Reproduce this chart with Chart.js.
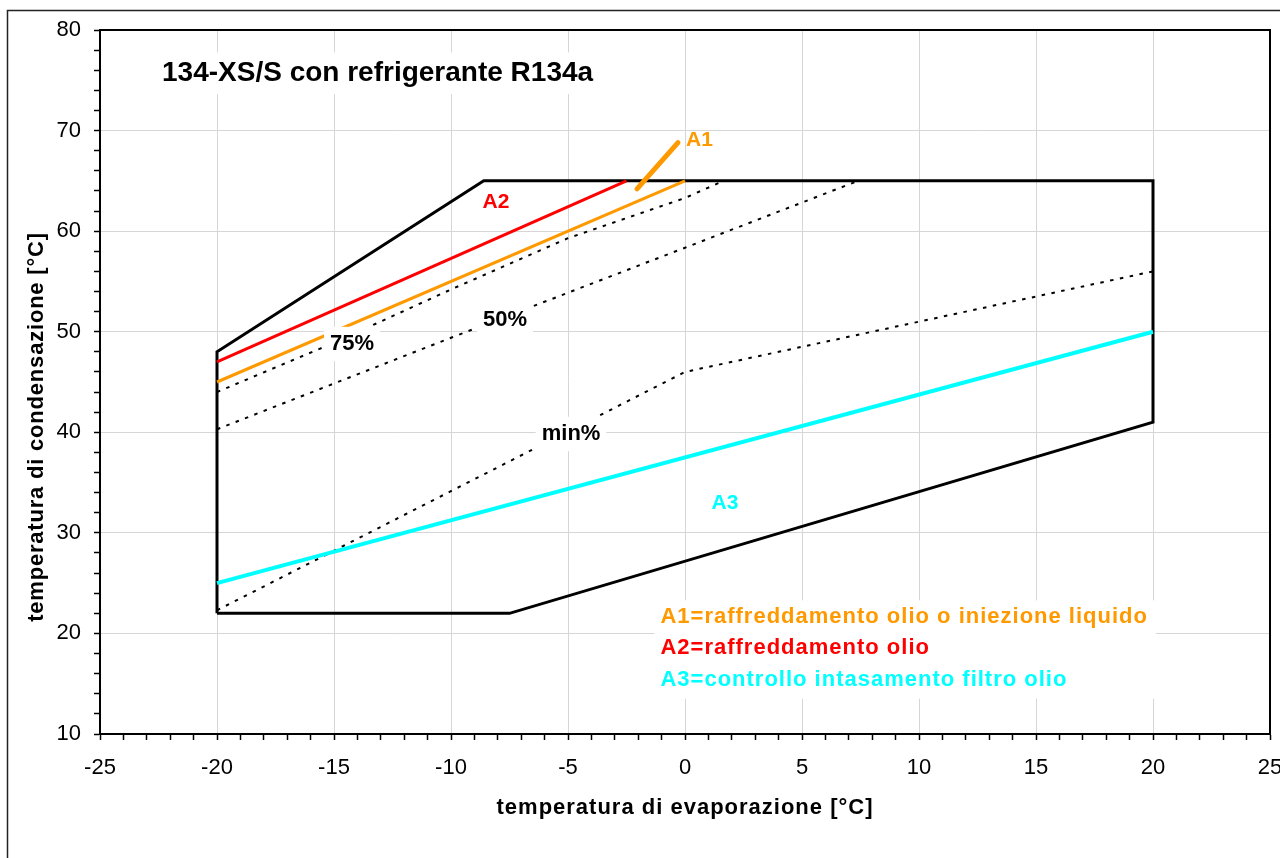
<!DOCTYPE html>
<html><head><meta charset="utf-8">
<script src="https://cdn.jsdelivr.net/npm/chart.js@4.4.1/dist/chart.umd.min.js"></script>
<style>html,body{margin:0;padding:0;background:#fff;overflow:hidden}canvas{display:block}</style>
</head><body><canvas id="c" width="1280" height="858"></canvas>
<script>
// ---- data ----
const envelopeX = [-20, -20, -8.6, 20, 20, -7.5, -20];
const envelopeY = [22, 48, 65, 65, 41, 22, 22];
const a1X = [-20, 0];
const a1Y = [45, 65];
const a2X = [-20, -2.5];
const a2Y = [47, 65];
const a3X = [-20, 20];
const a3Y = [25, 50];
const a1PointerX = [-2.05, -0.3];
const a1PointerY = [64.2, 68.8];
const p75X = [-20, -15, -10, -5, 0, 1.65];
const p75Y = [44, 48.9, 54.2, 59.3, 63.3, 65];
const p50X = [-20, -10, 0, 7.4];
const p50Y = [40.3, 49.4, 58.35, 65];
const pMinX = [-20, 0, 20];
const pMinY = [22.3, 46, 56];
const xTickLabels = [-25, -20, -15, -10, -5, 0, 5, 10, 15, 20, 25];
const yTickLabels = [10, 20, 30, 40, 50, 60, 70, 80];

const chartTitle = '134-XS/S con refrigerante R134a';
const xTitle = 'temperatura di evaporazione [°C]';
const yTitle = 'temperatura di condensazione [°C]';
const curveLabels = ['A1', 'A2', 'A3', '75%', '50%', 'min%'];
const legendLines = ['A1=raffreddamento olio o iniezione liquido', 'A2=raffreddamento olio', 'A3=controllo intasamento filtro olio'];

// ---- styles / placement ----
const ORANGE = '#FF9900', RED = '#FF0000', CYAN = '#00FFFF';
const FONT = '"Liberation Sans", Arial, Helvetica, sans-serif';
const curveLabelStyle = [
  {x: 0.62, y: 69.06, color: ORANGE, size: 21, box: false},
  {x: -8.08, y: 62.9, color: RED, size: 21, box: false},
  {x: 1.71, y: 32.97, color: CYAN, size: 21, box: false},
  {x: -14.23, y: 48.78, color: '#000', size: 22, box: true},
  {x: -7.69, y: 51.16, color: '#000', size: 22, box: true},
  {x: -4.87, y: 39.83, color: '#000', size: 22, box: true}
];
const legendColors = [ORANGE, RED, CYAN];
const legendPos = {x: -1.05, y: [21.6, 18.6, 15.4]};
const titlePos = {x: -22.35, y: 75.7};

const zip = (xs, ys) => xs.map((x, i) => ({x, y: ys[i]}));
const line = (label, xs, ys, color, width, dash) => ({
  label, data: zip(xs, ys), showLine: true, borderColor: color, backgroundColor: color,
  borderWidth: width, pointRadius: 0, borderDash: dash || [], tension: 0,
  borderCapStyle: 'butt', borderJoinStyle: 'miter', fill: false
});

const datasets = [
  Object.assign(line('A1 pointer', a1PointerX, a1PointerY, ORANGE, 5), {borderCapStyle: 'round'}),
  line('A3', a3X, a3Y, CYAN, 4),
  line('A1', a1X, a1Y, ORANGE, 3),
  line('A2', a2X, a2Y, RED, 3),
  line('envelope', envelopeX, envelopeY, '#000', 3),
  line('75%', p75X, p75Y, '#000', 2, [3.5, 6.5]),
  line('50%', p50X, p50Y, '#000', 2, [3.5, 6.5]),
  line('min%', pMinX, pMinY, '#000', 2, [3.5, 6.5])
];

function setSpacing(ctx, v) { try { ctx.letterSpacing = v; } catch (e) {} }

function textBox(ctx, text, x, y, font, color, align, box) {
  ctx.font = font;
  const w = ctx.measureText(text).width;
  const m = parseFloat(font.match(/(\d+)px/)[1]);
  const left = align === 'left' ? x : x - w / 2;
  if (box) {
    ctx.fillStyle = '#fff';
    ctx.fillRect(left - 6, y - m * 0.6 - 4, w + 12, m * 1.2 + 8);
  }
  ctx.fillStyle = color;
  ctx.textAlign = align;
  ctx.textBaseline = 'middle';
  ctx.fillText(text, x, y);
}

const overlay = {
  id: 'overlay',
  beforeDraw(chart) {
    const ctx = chart.ctx;
    ctx.save(); ctx.fillStyle = '#fff'; ctx.fillRect(0, 0, chart.width, chart.height); ctx.restore();
  },
  beforeDatasetsDraw(chart) {
    const {ctx, chartArea: a} = chart;
    ctx.save();
    ctx.strokeStyle = '#000'; ctx.lineWidth = 2;
    ctx.strokeRect(a.left, a.top, a.right - a.left, a.bottom - a.top);
    ctx.restore();
  },
  afterDatasetsDraw(chart) {
    const {ctx, scales: {x, y}} = chart;
    ctx.save();
    setSpacing(ctx, '0px');
    textBox(ctx, chartTitle, x.getPixelForValue(titlePos.x), y.getPixelForValue(titlePos.y),
      'bold 28px ' + FONT, '#000', 'left', true);
    curveLabels.forEach((t, i) => {
      const s = curveLabelStyle[i];
      textBox(ctx, t, x.getPixelForValue(s.x), y.getPixelForValue(s.y), 'bold ' + s.size + 'px ' + FONT, s.color, 'center', s.box);
    });
    // legend block
    setSpacing(ctx, '1px');
    ctx.font = 'bold 22px ' + FONT;
    const lx = x.getPixelForValue(legendPos.x);
    const ys = legendPos.y.map(v => y.getPixelForValue(v));
    const maxW = Math.max(...legendLines.map(t => ctx.measureText(t).width));
    ctx.fillStyle = '#fff';
    ctx.fillRect(lx - 6, ys[0] - 17, maxW + 14, ys[2] - ys[0] + 36);
    legendLines.forEach((t, i) => textBox(ctx, t, lx, ys[i], 'bold 22px ' + FONT, legendColors[i], 'left', false));
    ctx.restore();
  },
  afterDraw(chart) {
    const {ctx, chartArea: a} = chart;
    ctx.save();
    ctx.strokeStyle = '#222'; ctx.lineWidth = 1.5;
    ctx.beginPath(); ctx.moveTo(7.5, chart.height + 2); ctx.lineTo(7.5, 10.5); ctx.lineTo(chart.width + 2, 10.5); ctx.stroke();
    ctx.fillStyle = '#000';
    ctx.font = 'bold 22px ' + FONT;
    setSpacing(ctx, '1px');
    ctx.textAlign = 'center'; ctx.textBaseline = 'middle';
    ctx.fillText(xTitle, (a.left + a.right) / 2, a.bottom + 74);
    ctx.translate(37, (a.top + a.bottom) / 2 + 45);
    ctx.rotate(-Math.PI / 2);
    setSpacing(ctx, '0.8px');
    ctx.fillText(yTitle, 0, 0);
    ctx.restore();
  }
};

new Chart(document.getElementById('c'), {
  type: 'scatter',
  data: {datasets},
  plugins: [overlay],
  options: {
    responsive: false, animation: false, devicePixelRatio: 1,
    layout: {padding: {left: 8, top: 30, right: 10, bottom: 0}},
    plugins: {legend: {display: false}, tooltip: {enabled: false}, title: {display: false}},
    scales: {
      x: {
        type: 'linear', min: -25, max: 25,
        afterFit(s) { s.height = 124; s.paddingLeft = 0; s.paddingRight = 0; },
        ticks: {
          stepSize: 1, maxTicksLimit: 200, autoSkip: false, maxRotation: 0, minRotation: 0,
          color: '#000', font: {family: FONT, size: 22}, padding: 15,
          callback: v => xTickLabels.includes(v) ? String(v) : ''
        },
        grid: {
          color: c => (c.tick && xTickLabels.includes(c.tick.value)) ? '#d6d6d6' : 'rgba(0,0,0,0)',
          tickColor: '#000', tickLength: 6, lineWidth: 1, tickWidth: 1.5
        },
        border: {color: '#000', width: 2}
      },
      y: {
        type: 'linear', min: 10, max: 80,
        afterFit(s) { s.width = 92; s.paddingTop = 0; s.paddingBottom = 0; },
        ticks: {
          stepSize: 2, maxTicksLimit: 200, autoSkip: false,
          color: '#000', font: {family: FONT, size: 22}, padding: 13,
          callback: v => yTickLabels.includes(v) ? String(v) : ''
        },
        grid: {
          color: c => (c.tick && yTickLabels.includes(c.tick.value)) ? '#d6d6d6' : 'rgba(0,0,0,0)',
          tickColor: '#000', tickLength: 6, lineWidth: 1, tickWidth: 1.5
        },
        border: {color: '#000', width: 2}
      }
    }
  }
});
</script></body></html>
